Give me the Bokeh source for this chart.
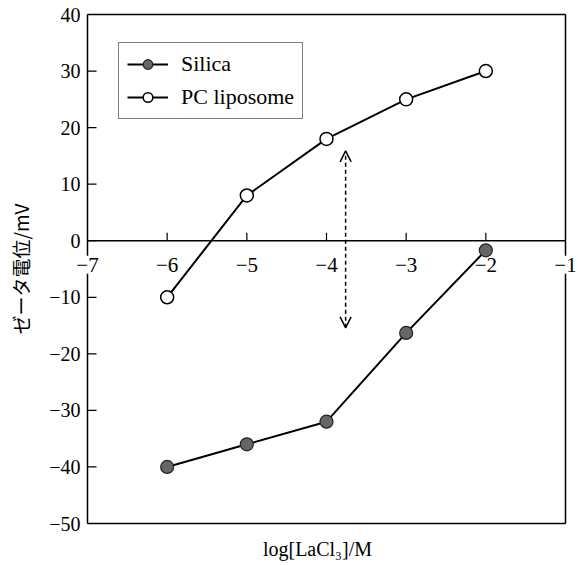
import math
from bokeh.plotting import figure
from bokeh.models import Range1d, Arrow, OpenHead
from bokeh.core.properties import value
from bokeh.embed import file_html
from bokeh.resources import INLINE

# ---- data ----
log_conc = [-6, -5, -4, -3, -2]
silica = [-40, -36, -32, -16.3, -1.7]
pc_liposome = [-10, 8, 18, 25, 30]

x_ticks = [-7, -6, -5, -4, -3, -2, -1]
x_tick_labels = ["−7", "−6", "−5", "−4", "−3", "−2", "−1"]
y_ticks = [-50, -40, -30, -20, -10, 0, 10, 20, 30, 40]
y_tick_labels = ["−50", "−40", "−30", "−20", "−10", "0", "10", "20", "30", "40"]

arrow_x = -3.76
arrow_y = [15.9, -15.4]

x_title = "log[LaCl₃]/M"
y_title = "ゼータ電位/mV"

# ---- style / layout ----
SERIF = "'Liberation Serif', 'Times New Roman', serif"
CJK = "Noto Sans CJK JP"
W, H = 578, 565
BOX_L, BOX_R, BOX_T, BOX_B = 87, 565, 14, 523   # pixel edges of the drawn box

x_lo, x_hi = x_ticks[0], x_ticks[-1]
y_lo, y_hi = y_ticks[0], y_ticks[-1]
px_x = (BOX_R - BOX_L) / (x_hi - x_lo)
px_y = (BOX_B - BOX_T) / (y_hi - y_lo)
x_range = Range1d(x_lo - BOX_L / px_x, x_hi + (W - BOX_R) / px_x)
y_range = Range1d(y_lo - (H - BOX_B) / px_y, y_hi + BOX_T / px_y)

p = figure(width=W, height=H, x_range=x_range, y_range=y_range,
           output_backend="svg", toolbar_location=None,
           x_axis_location=None, y_axis_location=None, min_border=0)
p.outline_line_color = None
p.grid.visible = False
p.background_fill_color = "white"
p.border_fill_color = "white"

# box
p.segment(x0=[x_lo, x_lo, x_lo, x_hi], y0=[y_lo, y_hi, y_lo, y_lo],
          x1=[x_hi, x_hi, x_lo, x_hi], y1=[y_lo, y_hi, y_hi, y_hi],
          line_color="black", line_width=1.5)

# y ticks (inward) and labels
p.segment(x0=[x_lo] * len(y_ticks), y0=y_ticks,
          x1=[x_lo + 9 / px_x] * len(y_ticks), y1=y_ticks,
          line_color="black", line_width=1.2)
p.text(x=[x_lo] * len(y_ticks), y=y_ticks, text=y_tick_labels, x_offset=-7,
       text_align="right", text_baseline="middle", text_font=value(SERIF),
       text_font_size="20px", text_color="black")

# middle x axis at y = 0
p.segment(x0=[x_lo], y0=[0], x1=[x_hi], y1=[0], line_color="black", line_width=1.5)
inner = x_ticks[1:-1]
p.segment(x0=inner, y0=[0] * len(inner), x1=inner, y1=[8 / px_y] * len(inner),
          line_color="black", line_width=1.2)
p.text(x=inner, y=[0] * len(inner), text=x_tick_labels[1:-1], text_align="center",
       text_baseline="middle", y_offset=24, text_font=value(SERIF),
       text_font_size="21px", text_color="black")
ends = [x_ticks[0], x_ticks[-1]]
p.text(x=ends, y=[0, 0], text=[x_tick_labels[0], x_tick_labels[-1]],
       text_align="center", text_baseline="middle", y_offset=24,
       text_font=value(SERIF), text_font_size="21px", text_color="black",
       background_fill_color="white", padding=2)

# axis titles
p.text(x=[(x_lo + x_hi) / 2], y=[y_lo], text=[x_title], text_align="center",
       text_baseline="middle", x_offset=-9, y_offset=25, text_font=value(SERIF),
       text_font_size="20px", text_color="black")
p.text(x=[x_lo], y=[(y_lo + y_hi) / 2], text=[y_title], angle=math.pi / 2,
       text_align="center", text_baseline="middle", x_offset=-67,
       text_font=value(CJK), text_font_size="19px", text_color="black")

# arrow
p.add_layout(Arrow(x_start=arrow_x, y_start=arrow_y[1], x_end=arrow_x, y_end=arrow_y[0],
                   line_color="black", line_width=1.5, line_dash="4 3",
                   start=OpenHead(size=11, line_width=1.5, line_color="black"),
                   end=OpenHead(size=11, line_width=1.5, line_color="black")))

# series
p.line(log_conc, silica, line_color="black", line_width=2, legend_label="Silica")
p.scatter(log_conc, silica, size=13, fill_color="#666666", line_color="#222222",
          line_width=1.2, legend_label="Silica")
p.line(log_conc, pc_liposome, line_color="black", line_width=2, legend_label="PC liposome")
p.scatter(log_conc, pc_liposome, size=13, fill_color="white", line_color="black",
          line_width=1.5, legend_label="PC liposome")

lg = p.legend[0]
lg.location = (118, H - 119)
lg.border_line_color = "black"
lg.border_line_width = 1.2
lg.background_fill_color = "white"
lg.background_fill_alpha = 1
lg.padding = 8
lg.spacing = 7
lg.margin = 0
lg.glyph_width = 41
lg.glyph_height = 24
lg.label_height = 24
lg.label_standoff = 13
lg.label_text_font = SERIF
lg.label_text_font_size = "22px"
lg.label_text_color = "black"

open("out.html", "w").write(file_html(p, INLINE))
